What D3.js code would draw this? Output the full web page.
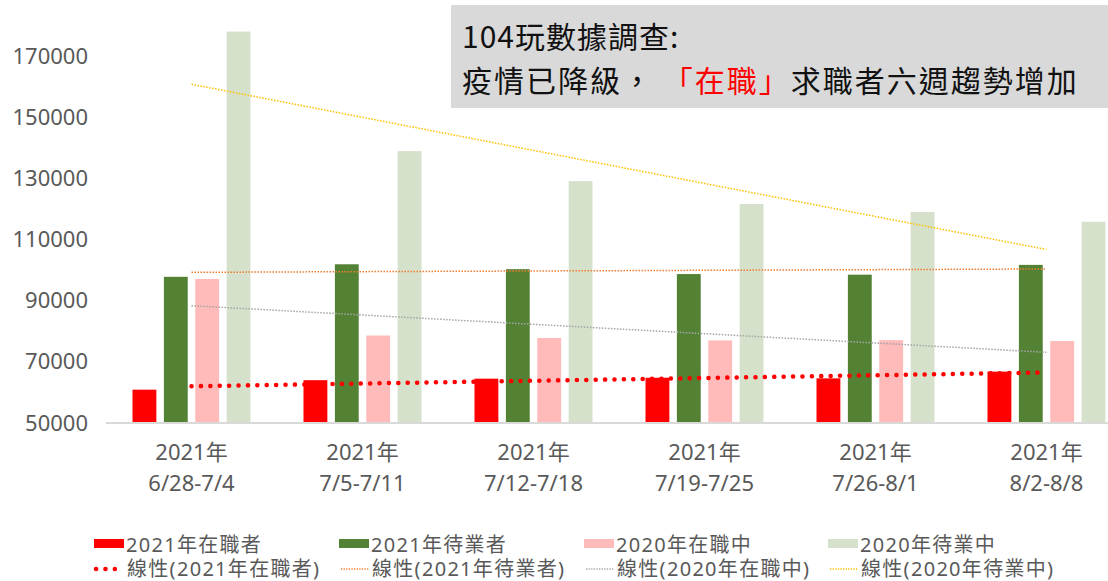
<!DOCTYPE html>
<html>
<head>
<meta charset="utf-8">
<script src="https://cdn.jsdelivr.net/npm/d3@7"></script>
<style>
  body { margin: 0; background: #fff; }
  svg { display: block; }
</style>
</head>
<body>
<script>
// week ranges (2 lines each)
var weekYear = ["2021年", "2021年", "2021年", "2021年", "2021年", "2021年"];
var weekRange = ["6/28-7/4", "7/5-7/11", "7/12-7/18", "7/19-7/25", "7/26-8/1", "8/2-8/8"];

// values
var onJob2021 = [60900, 64000, 64500, 64800, 64600, 66800];
var jobless2021 = [97800, 101900, 100300, 98700, 98500, 101700];
var onJob2020 = [97100, 78600, 77800, 77000, 77100, 76800];
var jobless2020 = [178000, 138900, 129100, 121600, 119000, 115800];

var seriesNames = ["2021年在職者", "2021年待業者", "2020年在職中", "2020年待業中"];
var yTicks = [50000, 70000, 90000, 110000, 130000, 150000, 170000];

var width = 1108, height = 581;
var colors = ["#ff0000", "#548235", "#ffbaba", "#d6e1cc"];
var trendColors = ["#ff0000", "#ed7d31", "#a5a5a5", "#ffc000"];
var series = [onJob2021, jobless2021, onJob2020, jobless2020];
var labelFont = "'Noto Sans', 'Noto Sans CJK TC', sans-serif";

var svg = d3.select("body").append("svg")
    .attr("width", width)
    .attr("height", height);

var x = d3.scaleBand()
    .domain(d3.range(weekRange.length))
    .range([106, 1132])
    .paddingInner(0)
    .paddingOuter(0);

var y = d3.scaleLinear()
    .domain([50000, 170000])
    .range([423, 56]);

// inner band for the 4 bars of one week
var xs = d3.scaleBand()
    .domain(d3.range(4))
    .range([26.5, 144.5])
    .paddingInner(0.24);

// bars
series.forEach(function (values, s) {
  svg.append("g")
      .attr("fill", colors[s])
      .selectAll("rect")
      .data(values)
      .enter().append("rect")
      .attr("x", function (d, i) { return x(i) + xs(s); })
      .attr("y", function (d) { return y(d); })
      .attr("width", xs.bandwidth())
      .attr("height", function (d) { return y(50000) - y(d); });
});

// baseline
svg.append("line")
    .attr("x1", 106).attr("x2", width)
    .attr("y1", y(50000)).attr("y2", y(50000))
    .attr("stroke", "#d9d9d9")
    .attr("stroke-width", 2);

// y axis labels
var yAxis = svg.append("g")
    .attr("transform", "translate(106,0)")
    .call(d3.axisLeft(y).tickValues(yTicks).tickSize(0).tickPadding(18)
        .tickFormat(d3.format("d")));
yAxis.select(".domain").remove();
yAxis.selectAll("text")
    .attr("font-family", labelFont)
    .attr("font-size", 22)
    .attr("fill", "#595959");

// x labels
var xl = svg.append("g")
    .selectAll("text")
    .data(weekRange)
    .enter().append("text")
    .attr("x", function (d, i) { return x(i) + x.bandwidth() / 2; })
    .attr("text-anchor", "middle")
    .attr("font-family", labelFont)
    .attr("font-size", 22)
    .attr("fill", "#595959");
xl.append("tspan")
    .attr("x", function (d, i) { return x(i) + x.bandwidth() / 2; })
    .attr("y", 460)
    .text(function (d, i) { return weekYear[i]; });
xl.append("tspan")
    .attr("x", function (d, i) { return x(i) + x.bandwidth() / 2; })
    .attr("y", 491)
    .text(function (d) { return d; });

// linear trend lines (least squares, like the spreadsheet does)
function trend(values) {
  var n = values.length;
  var mx = d3.mean(d3.range(n)), my = d3.mean(values);
  var sxy = d3.sum(values, function (v, i) { return (i - mx) * (v - my); });
  var sxx = d3.sum(d3.range(n), function (i) { return (i - mx) * (i - mx); });
  var b = sxy / sxx, a = my - b * mx;
  return [a, a + b * (n - 1)];
}

var cx = function (i) { return x(i) + x.bandwidth() / 2; };
series.forEach(function (values, s) {
  var t = trend(values);
  var line = svg.append("line")
      .attr("x1", cx(0)).attr("y1", y(t[0]))
      .attr("x2", cx(values.length - 1)).attr("y2", y(t[1]))
      .attr("stroke", trendColors[s]);
  if (s === 0) {
    line.attr("stroke-width", 4.5)
        .attr("stroke-linecap", "round")
        .attr("stroke-dasharray", "0.1 9.3");
  } else {
    line.attr("stroke-width", 1.5)
        .attr("stroke-dasharray", "1.5 1.5");
  }
});

// title box
var title = svg.append("g");
title.append("rect")
    .attr("x", 451).attr("y", 5)
    .attr("width", 700).attr("height", 103)
    .attr("fill", "#d9d9d9");
title.append("text")
    .attr("x", 462).attr("y", 48)
    .attr("font-family", "'Noto Sans CJK TC', sans-serif")
    .attr("font-weight", 400)
    .attr("font-size", 30)
    .attr("letter-spacing", 1)
    .attr("fill", "#111")
    .text("104玩數據調查:");
var t2 = title.append("text")
    .attr("x", 462).attr("y", 92)
    .attr("font-family", "'Noto Sans CJK TC', sans-serif")
    .attr("font-weight", 400)
    .attr("font-size", 30)
    .attr("letter-spacing", 2)
    .attr("fill", "#111");
t2.append("tspan").text("疫情已降級， ");
t2.append("tspan").attr("fill", "#ff0000").text("「在職」");
t2.append("tspan").text("求職者六週趨勢增加");

// legend
var legendX = [94, 339, 584, 828];
var legend = svg.append("g")
    .attr("font-family", labelFont)
    .attr("font-size", 20)
    .attr("letter-spacing", 1.3)
    .attr("fill", "#595959");

seriesNames.forEach(function (name, s) {
  legend.append("rect")
      .attr("x", legendX[s]).attr("y", 539)
      .attr("width", 30).attr("height", 9)
      .attr("fill", colors[s]);
  legend.append("text")
      .attr("x", legendX[s] + 32).attr("y", 544)
      .attr("dominant-baseline", "central")
      .text(name);

  var l = legend.append("line")
      .attr("x1", legendX[s] + 2).attr("x2", legendX[s] + 30)
      .attr("y1", 569).attr("y2", 569)
      .attr("stroke", trendColors[s]);
  if (s === 0) {
    l.attr("stroke-width", 4.5)
        .attr("stroke-linecap", "round")
        .attr("stroke-dasharray", "0.1 9.3");
  } else {
    l.attr("stroke-width", 1.3)
        .attr("stroke-dasharray", "1.3 1.3");
  }
  legend.append("text")
      .attr("x", legendX[s] + 33).attr("y", 568)
      .attr("dominant-baseline", "central")
      .text("線性(" + name + ")");
});
</script>
</body>
</html>
